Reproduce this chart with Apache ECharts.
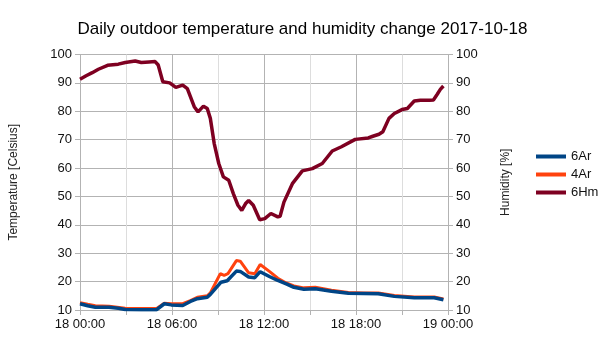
<!DOCTYPE html>
<html><head><meta charset="utf-8">
<script src="https://cdn.jsdelivr.net/npm/echarts@6/dist/echarts.min.js"></script>
<style>html,body{margin:0;padding:0;background:#fff}#c{width:605px;height:340px}</style>
</head><body><div id="c"></div>
<script>
var titleText = 'Daily outdoor temperature and humidity change 2017-10-18';
var seriesNames = ['6Ar', '4Ar', '6Hm'];
var xTickLabels = ['18 00:00', '18 06:00', '18 12:00', '18 18:00', '19 00:00'];
var yTicks = [10, 20, 30, 40, 50, 60, 70, 80, 90, 100];

var ar6Hours = [0, 0.5, 1.0, 1.9, 2.5, 2.95, 4.0, 5.0, 5.5, 5.95, 6.7, 7.2, 7.65, 8.3, 8.5, 9.2, 9.6, 10.2, 10.45, 11.0, 11.4, 11.75, 12.35, 12.9, 13.45, 13.95, 14.6, 15.35, 16.4, 17.5, 18.5, 19.45, 20.5, 21.8, 23.1, 23.7];
var ar6Vals = [12.2, 11.5, 11.0, 11.0, 10.6, 10.2, 10.1, 10.1, 12.2, 11.8, 11.6, 13.0, 14.0, 14.5, 15.5, 19.8, 20.3, 23.7, 23.6, 21.6, 21.4, 23.5, 21.8, 20.4, 19.2, 18.0, 17.3, 17.5, 16.6, 15.9, 15.8, 15.7, 14.8, 14.3, 14.3, 13.6];

var ar4Hours = [0, 0.5, 1.0, 1.9, 2.95, 4.0, 5.0, 5.5, 5.95, 6.7, 7.2, 7.65, 8.3, 8.5, 9.15, 9.4, 9.65, 10.2, 10.45, 11.0, 11.4, 11.75, 12.35, 12.9, 13.45, 13.95, 14.6, 15.35, 16.4, 17.5, 18.5, 19.45, 20.5, 21.8, 23.1, 23.7];
var ar4Vals = [12.6, 12.0, 11.5, 11.3, 10.6, 10.5, 10.5, 12.4, 12.2, 12.2, 13.3, 14.5, 15.0, 16.0, 22.8, 22.2, 22.8, 27.4, 27.2, 23.1, 22.8, 26.0, 23.6, 21.2, 19.5, 18.5, 17.8, 18.0, 17.0, 16.2, 16.0, 16.0, 15.1, 14.6, 14.6, 13.9];

var hm6Hours = [0, 0.4, 0.8, 1.2, 1.8, 2.5, 2.95, 3.6, 4.0, 4.5, 4.9, 5.1, 5.4, 5.85, 6.25, 6.7, 7.0, 7.45, 7.7, 8.05, 8.3, 8.5, 8.75, 9.05, 9.35, 9.7, 10.0, 10.3, 10.55, 10.8, 11.0, 11.3, 11.72, 12.05, 12.45, 12.9, 13.05, 13.3, 13.85, 14.5, 15.15, 15.8, 16.45, 17.05, 17.95, 18.8, 19.1, 19.5, 19.75, 20.15, 20.5, 21.0, 21.35, 21.8, 22.2, 22.8, 23.05, 23.3, 23.5, 23.7];
var hm6Vals = [91.3, 92.5, 93.6, 94.8, 96.2, 96.6, 97.2, 97.7, 97.2, 97.4, 97.5, 96.3, 90.4, 90.0, 88.4, 89.2, 88.0, 81.6, 79.8, 81.8, 81.0, 77.5, 68.7, 61.6, 56.9, 55.7, 51.0, 46.9, 45.1, 47.5, 48.6, 46.9, 41.8, 42.2, 44.0, 42.8, 43.0, 48.0, 54.5, 59.0, 59.8, 61.6, 66.0, 67.5, 70.1, 70.6, 71.2, 71.9, 72.8, 77.5, 79.2, 80.6, 81.0, 83.6, 83.9, 83.9, 84.0, 86.0, 87.7, 88.9];

function pairs(h, v) { return h.map(function (x, i) { return [x, v[i]]; }); }

var FONT = 'Liberation Sans';
var gridGrey = '#b3b3b3';
function yAxisCfg(name, pos, gap) {
  return {
    type: 'value', position: pos, min: yTicks[0], max: yTicks[yTicks.length - 1], interval: 10,
    name: name, nameLocation: 'middle', nameGap: gap, nameRotate: 90,
    nameTextStyle: { fontFamily: FONT, fontSize: 12, color: '#222' },
    axisLine: { show: true, lineStyle: { color: gridGrey } },
    axisTick: { show: true, length: 5, lineStyle: { color: gridGrey } },
    axisLabel: { fontFamily: FONT, fontSize: 13, color: '#111', margin: 8 },
    splitLine: { show: pos === 'left', lineStyle: { color: gridGrey } }
  };
}

var chart = echarts.init(document.getElementById('c'), null, { renderer: 'canvas' });
chart.setOption({
  animation: false,
  backgroundColor: '#fff',
  title: { text: titleText, left: 'center', top: 16,
    textStyle: { fontFamily: FONT, fontSize: 17, fontWeight: 'normal', color: '#000' } },
  legend: {
    orient: 'vertical', left: 531, top: 145, itemWidth: 30, itemHeight: 4, itemGap: 5,
    icon: 'rect', data: seriesNames,
    textStyle: { fontFamily: FONT, fontSize: 13, color: '#111' }
  },
  grid: { left: 74, right: 157, top: 54.5, bottom: 30 },
  xAxis: {
    type: 'value', min: 0, max: 24, interval: 3,
    axisLine: { lineStyle: { color: gridGrey } },
    axisTick: { show: true, length: 5, lineStyle: { color: gridGrey } },
    axisLabel: { fontFamily: FONT, fontSize: 13, color: '#111', margin: 8, showMaxLabel: true,
      formatter: function (v) { return v % 6 === 0 ? xTickLabels[v / 6] : ''; } },
    splitLine: { show: true, lineStyle: { color: [gridGrey, '#dddddd'] } }
  },
  yAxis: [yAxisCfg('Temperature [Celsius]', 'left', 60), yAxisCfg('Humidity [%]', 'right', 52)],
  series: [
    { name: '4Ar', type: 'line', data: pairs(ar4Hours, ar4Vals), showSymbol: false, symbol: 'none',
      lineStyle: { width: 3, color: '#ff420e' }, itemStyle: { color: '#ff420e' }, yAxisIndex: 0 },
    { name: '6Ar', type: 'line', data: pairs(ar6Hours, ar6Vals), showSymbol: false, symbol: 'none',
      lineStyle: { width: 3.5, color: '#004586' }, itemStyle: { color: '#004586' }, yAxisIndex: 0 },
    { name: '6Hm', type: 'line', data: pairs(hm6Hours, hm6Vals), showSymbol: false, symbol: 'none',
      lineStyle: { width: 3.5, color: '#7e0021' }, itemStyle: { color: '#7e0021' }, yAxisIndex: 1 }
  ]
});
</script></body></html>
